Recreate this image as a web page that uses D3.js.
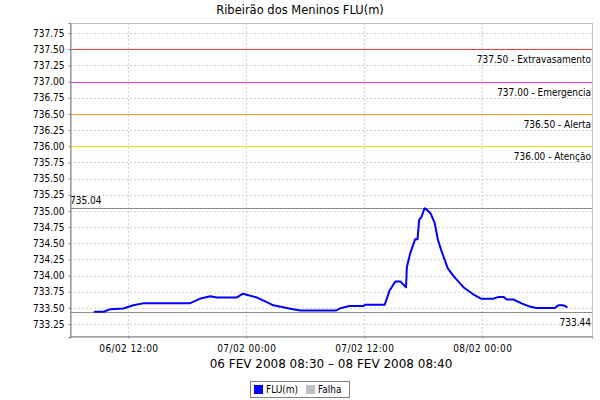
<!DOCTYPE html>
<html><head><meta charset="utf-8">
<script src="https://cdn.jsdelivr.net/npm/d3@7"></script>
<style>
body{margin:0;background:#fff;}
svg{display:block;}
.cond{font-family:"DejaVu Sans Condensed","DejaVu Sans",sans-serif;font-stretch:condensed;}
</style></head>
<body><svg id="chart" width="600" height="400"></svg>
<script>
const title = "Ribeirão dos Meninos FLU(m)";
const xAxisLabel = "06 FEV 2008 08:30 \u2013 08 FEV 2008 08:40";
const times = ["2008-02-06T08:30","2008-02-06T09:30","2008-02-06T10:10","2008-02-06T11:30","2008-02-06T12:30","2008-02-06T13:30","2008-02-06T18:15","2008-02-06T19:15","2008-02-06T20:20","2008-02-06T21:00","2008-02-06T23:00","2008-02-06T23:40","2008-02-07T01:05","2008-02-07T02:05","2008-02-07T02:45","2008-02-07T03:45","2008-02-07T04:45","2008-02-07T05:30","2008-02-07T09:10","2008-02-07T09:30","2008-02-07T10:30","2008-02-07T11:55","2008-02-07T12:05","2008-02-07T14:05","2008-02-07T14:35","2008-02-07T15:10","2008-02-07T15:40","2008-02-07T16:15","2008-02-07T16:20","2008-02-07T16:40","2008-02-07T17:10","2008-02-07T17:25","2008-02-07T17:35","2008-02-07T17:50","2008-02-07T18:05","2008-02-07T18:10","2008-02-07T18:20","2008-02-07T18:45","2008-02-07T19:10","2008-02-07T19:30","2008-02-07T19:50","2008-02-07T20:30","2008-02-07T21:05","2008-02-07T22:05","2008-02-07T23:05","2008-02-07T23:55","2008-02-08T01:05","2008-02-08T01:40","2008-02-08T02:10","2008-02-08T02:30","2008-02-08T03:10","2008-02-08T04:00","2008-02-08T04:50","2008-02-08T05:30","2008-02-08T07:25","2008-02-08T07:45","2008-02-08T08:15","2008-02-08T08:40"];
const levels = [733.44,733.44,733.48,733.49,733.54,733.57,733.57,733.64,733.68,733.66,733.66,733.72,733.66,733.59,733.54,733.51,733.48,733.46,733.46,733.49,733.53,733.53,733.55,733.55,733.77,733.91,733.91,733.82,734.13,734.34,734.56,734.56,734.86,734.91,735.02,735.04,735.02,734.96,734.81,734.55,734.39,734.11,733.99,733.82,733.71,733.64,733.64,733.67,733.67,733.63,733.63,733.57,733.52,733.50,733.50,733.54,733.54,733.51];
const yTicks = [733.25,733.50,733.75,734.00,734.25,734.50,734.75,735.00,735.25,735.50,735.75,736.00,736.25,736.50,736.75,737.00,737.25,737.50,737.75];
const xTicks = ["2008-02-06T12:00","2008-02-07T00:00","2008-02-07T12:00","2008-02-08T00:00"];
const thresholdValues = [737.50,737.00,736.50,736.00];
const thresholdNames = ["Extravasamento","Emergencia","Alerta","Aten\u00e7\u00e3o"];
const thresholdColors = ["#e8403a","#e040e0","#ff9a2a","#ffdc00"];
const maxValue = 735.04, minValue = 733.44;
const legendNames = ["FLU(m)","Falha"];
const legendColors = ["#0000ff","#c0c0c0"];
const yDomain = [733.05, 737.905];
const xDomain = ["2008-02-06T06:04","2008-02-08T11:10"];

const parse = d3.utcParse("%Y-%m-%dT%H:%M");
const L = 70, R = 592, T = 23, B = 337;
const svg = d3.select("#chart");
const x = d3.scaleUtc().domain(xDomain.map(parse)).range([L, R]);
const y = d3.scaleLinear().domain(yDomain).range([B, T]);
const fmt = d3.utcFormat("%d/%m %H:%M");

svg.append("text").attr("x",300).attr("y",14).attr("text-anchor","middle")
  .attr("font-family","DejaVu Sans, sans-serif").attr("font-size","11.5px").attr("fill","#000").text(title);

svg.append("rect").attr("x",L).attr("y",T).attr("width",R-L).attr("height",B-T).attr("fill","#fff");

// grid
const g = svg.append("g");
g.selectAll(".hg").data(yTicks).join("line")
  .attr("x1",L).attr("x2",R).attr("y1",d=>Math.round(y(d))+0.5).attr("y2",d=>Math.round(y(d))+0.5)
  .attr("stroke","#d4d4d4").attr("stroke-dasharray","2,2").attr("stroke-width",1);
g.selectAll(".vg").data(xTicks).join("line")
  .attr("y1",T).attr("y2",B).attr("x1",d=>Math.round(x(parse(d)))+0.5).attr("x2",d=>Math.round(x(parse(d)))+0.5)
  .attr("stroke","#d4d4d4").attr("stroke-dasharray","2,2").attr("stroke-width",1);

// border
svg.append("rect").attr("x",L+0.5).attr("y",T+0.5).attr("width",R-L).attr("height",B-T-1)
  .attr("fill","none").attr("stroke","#c0c0c0");

// thresholds
thresholdValues.forEach((v,i)=>{
  const yy = Math.round(y(v))+0.5;
  svg.append("line").attr("x1",L).attr("x2",R).attr("y1",yy).attr("y2",yy).attr("stroke",thresholdColors[i]).attr("stroke-width",1);
  svg.append("text").attr("class","cond").attr("x",R-1).attr("y",yy+13).attr("text-anchor","end")
    .attr("font-size","10px").attr("fill","#000").text(d3.format(".2f")(v)+" - "+thresholdNames[i]);
});
// max/min markers
[maxValue,minValue].forEach((v,i)=>{
  const yy = Math.round(y(v))+0.5;
  svg.append("line").attr("x1",L).attr("x2",R).attr("y1",yy).attr("y2",yy).attr("stroke","#8c8c8c").attr("stroke-width",1);
  const t = svg.append("text").attr("class","cond").attr("font-size","10px").attr("fill","#000").text(d3.format(".2f")(v));
  if(i===0) t.attr("x",L).attr("y",yy-5).attr("text-anchor","start");
  else t.attr("x",R-1).attr("y",yy+13).attr("text-anchor","end");
});

// line
const data = times.map((t,i)=>({t:parse(t),v:levels[i]}));
svg.append("path").datum(data)
  .attr("d",d3.line().x(d=>x(d.t)).y(d=>y(d.v)))
  .attr("fill","none").attr("stroke","#0000ff").attr("stroke-width",2).attr("stroke-linejoin","round");

// axes
const ya = svg.append("g").attr("transform",`translate(${L+0.5},0)`)
  .call(d3.axisLeft(y).tickValues(yTicks).tickFormat(d3.format(".2f")).tickSize(2).tickPadding(4));
const xa = svg.append("g").attr("transform",`translate(0,${B-0.5})`)
  .call(d3.axisBottom(x).tickValues(xTicks.map(parse)).tickFormat(fmt).tickSize(2).tickPadding(6));
[ya,xa].forEach(a=>{
  a.select(".domain").attr("stroke","#808080");
  a.selectAll(".tick line").attr("stroke","#808080");
  a.selectAll("text").attr("class","cond").attr("font-size","10px").attr("fill","#000")
   .attr("font-family",null);
});
xa.selectAll("text").attr("letter-spacing","0.4px");

svg.append("text").attr("x",(L+R)/2).attr("y",368).attr("text-anchor","middle")
  .attr("font-family","DejaVu Sans, sans-serif").attr("font-size","12px").attr("fill","#000").text(xAxisLabel);

// legend
const lg = svg.append("g");
lg.append("rect").attr("x",250.5).attr("y",381.5).attr("width",99).attr("height",16).attr("fill","#fff").attr("stroke","#808080");
const lx = [254, 306];
legendNames.forEach((n,i)=>{
  lg.append("rect").attr("x",lx[i]).attr("y",385).attr("width",9).attr("height",9).attr("fill",legendColors[i]);
  lg.append("text").attr("class","cond").attr("x",lx[i]+12).attr("y",393).attr("font-size","10px").attr("fill","#000").text(n);
});
</script></body></html>
